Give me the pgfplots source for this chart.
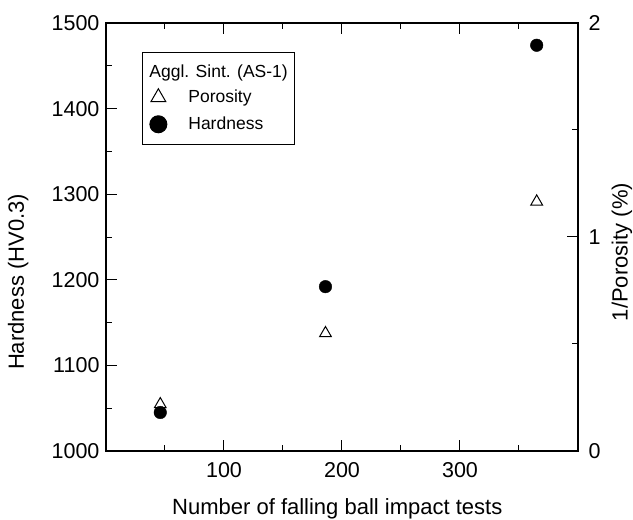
\documentclass[border=0pt]{standalone}
\usepackage{fontspec}
\setmainfont{Liberation Sans}
\usepackage{pgfplots}
\pgfplotsset{compat=1.18}
\begin{document}
\begin{tikzpicture}
\useasboundingbox (0,0) rectangle (633pt,520pt);
\pgfplotsset{
 common/.style={
  scale only axis, width=472pt, height=428pt,
  at={(106pt,69pt)}, anchor=south west,
  xmin=0, xmax=400,
  axis line style={line width=1.1pt},
  every tick/.style={line width=1pt, black},
  major tick length=11pt, minor tick length=6pt,
  tick align=inside,
  /pgf/number format/assume math mode=true,
  /pgf/number format/1000 sep={},
  tick label style={font=\fontsize{21.5}{24}\selectfont},
 },
 myleg/.style={legend image code/.code={%
   \draw[mark size=8.5pt,##1] plot coordinates {(9pt,0pt)};
   \path[draw=none,fill=none] (0pt,-8.5pt) rectangle (39pt,8.5pt);}},
}
\begin{axis}[common,
  ymin=1000, ymax=1500,
  xtick={100,200,300}, minor xtick={50,150,250,350},
  ytick={1000,1100,1200,1300,1400,1500}, minor ytick={1050,1150,1250,1350,1450},
  ytick pos=left,
  xticklabel style={yshift=-8pt},
  yticklabel style={xshift=-3pt},
  xlabel={Number of falling ball impact tests},
  ylabel={Hardness (HV0.3)},
  every axis x label/.style={at={(axis description cs:0.49,-0.135)}, anchor=center, font=\fontsize{22}{26}\selectfont},
  every axis y label/.style={at={(axis description cs:-0.186,0.395)}, rotate=90, anchor=center, font=\fontsize{22}{26}\selectfont},
]
\addplot[only marks, mark=*, mark size=6.3pt, black] coordinates {(46,1045) (186,1192) (365,1474)};
\end{axis}
\begin{axis}[common,
  ymin=0, ymax=2,
  axis x line=none, axis y line*=right,
  ytick={0,1,2}, minor ytick={0.5,1.5},
  yticklabel style={xshift=7pt},
  ylabel={1/Porosity (\%)},
  every axis y label/.style={at={(axis description cs:1.093,0.465)}, rotate=90, anchor=center, font=\fontsize{22}{26}\selectfont},
  legend style={at={(axis description cs:0.076,0.932)}, anchor=north west, draw=black, line width=1pt,
    font=\fontsize{17.5}{20}\selectfont, row sep=10pt, column sep=0pt,
    inner xsep=7pt, inner ysep=12pt, nodes={inner sep=0pt}},
  legend cell align=left,
]
\addlegendimage{empty legend}
\addlegendentry{\hspace*{-39pt}Aggl. Sint. (AS-1)\rule[-7pt]{0pt}{7pt}}
\addplot[only marks, mark=triangle, mark size=6.8pt, black, mark options={line width=1pt}, myleg] coordinates {(46,0.218) (186,0.550) (365,1.165)};
\addlegendentry{Porosity}
\addlegendimage{only marks, mark=*, black, myleg}
\addlegendentry{Hardness}
\end{axis}
\end{tikzpicture}
\end{document}
